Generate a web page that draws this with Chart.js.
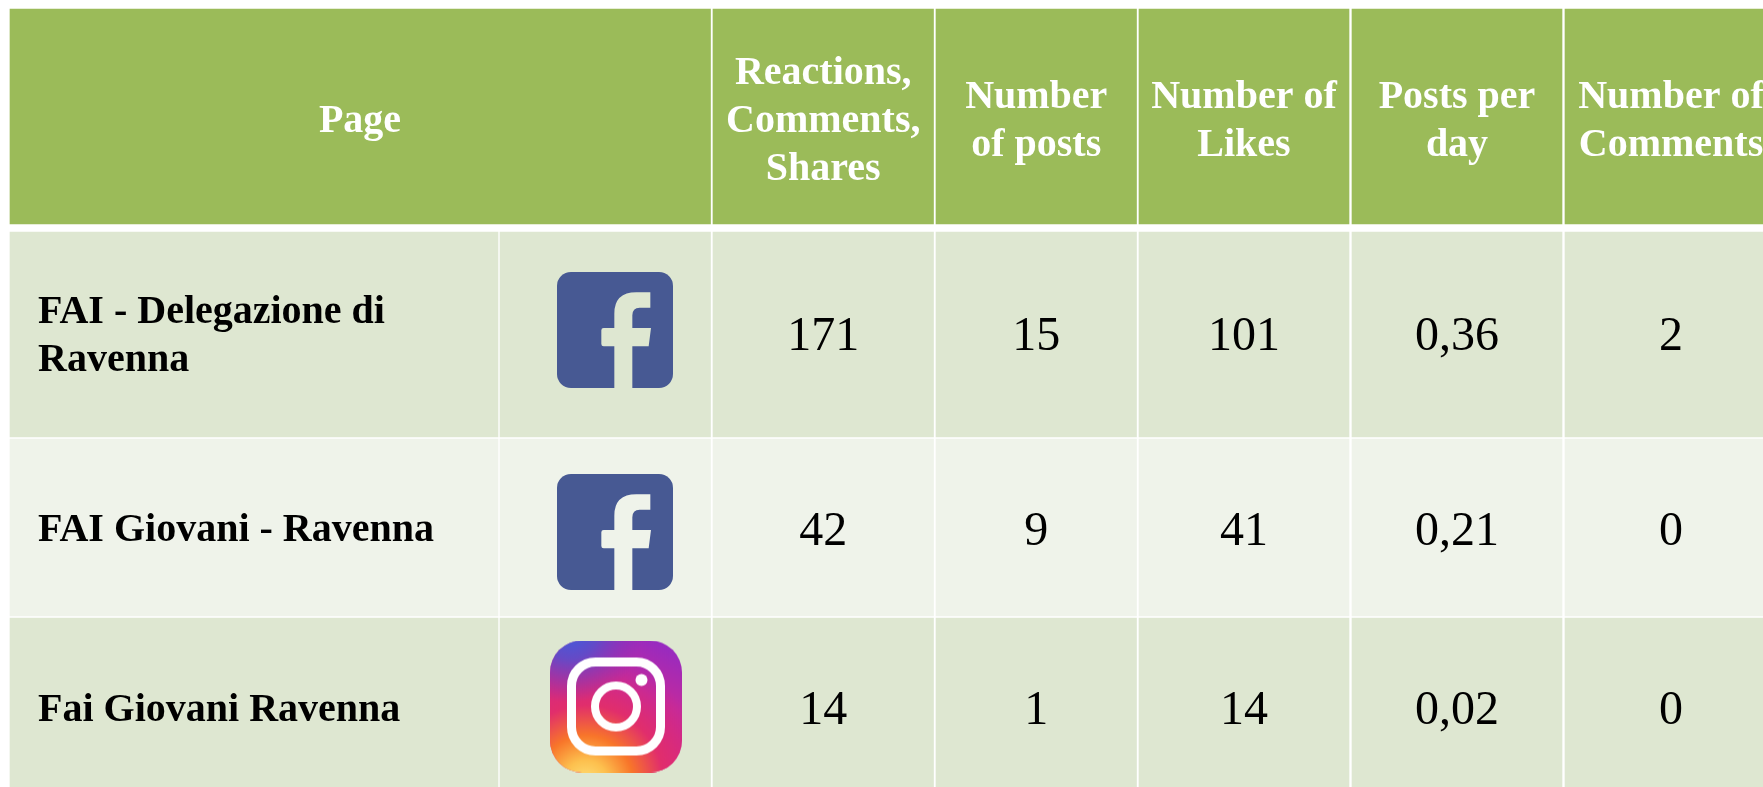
<!DOCTYPE html>
<html><head><meta charset="utf-8">
<style>html,body{margin:0;padding:0;background:#fff;overflow:hidden}canvas{display:block}</style>
<script src="https://cdn.jsdelivr.net/npm/chart.js@4/dist/chart.umd.min.js"></script>
</head><body><canvas id="c" width="1763" height="787"></canvas>
<script>
// ---- table content ----
const headers = [["Page"],["Reactions,","Comments,","Shares"],["Number","of posts"],["Number of","Likes"],["Posts per","day"],["Number of","Comments"]];
const pages = [["FAI - Delegazione di","Ravenna"],["FAI Giovani - Ravenna"],["Fai Giovani Ravenna"]];
const platforms = ["facebook","facebook","instagram"];
const reactions = [171,42,14];
const posts = [15,9,1];
const likes = [101,41,14];
const postsPerDay = [0.36,0.21,0.02];
const comments = [2,0,0];
// ---- layout ----
const colSpans = [[10,498],[500,710.5],[713,933.5],[936,1136.5],[1139,1349],[1352,1562],[1565,1777]];
const headerSpan = [9,224];
const rowSpans = [[232,437],[439,616],[618,796]];
const pageBaselines = [[322.5,370.5],[541],[721]];
const valueBaselines = [350,545,724];
const HEAD='#9BBB59', DARK='#DEE7D1', LIGHT='#EFF3EA';
const mid=a=>(a[0]+a[1])/2;

function fbIcon(){
  const s=116,c=document.createElement('canvas');c.width=c.height=s;const g=c.getContext('2d');
  g.fillStyle='#475993';g.beginPath();g.roundRect(0,0,s,s,14);g.fill();
  g.globalCompositeOperation='destination-out';
  const k=s/348;g.scale(k,k);g.beginPath();
  g.moveTo(280,61);g.lineTo(280,107);g.lineTo(248,107);g.quadraticCurveTo(226,107,226,130);g.lineTo(226,168);
  g.lineTo(282,168);g.lineTo(275,223);g.lineTo(226,223);g.lineTo(226,348);g.lineTo(172,348);g.lineTo(172,223);
  g.lineTo(140,223);g.quadraticCurveTo(133,223,133,216);g.lineTo(133,175);g.quadraticCurveTo(133,168,140,168);
  g.lineTo(172,168);g.lineTo(172,125);g.quadraticCurveTo(172,61,238,61);g.closePath();g.fill();
  return c;
}
function igIcon(){
  const s=132,c=document.createElement('canvas');c.width=c.height=s;const g=c.getContext('2d');
  g.save();g.beginPath();g.roundRect(0,0,s,s,32);g.clip();
  const b=g.createLinearGradient(s,0,s*.55,s);b.addColorStop(0,'#8E2BC8');b.addColorStop(.45,'#C42A9C');b.addColorStop(1,'#E4286A');
  g.fillStyle=b;g.fillRect(0,0,s,s);
  let r=g.createRadialGradient(s*.27,s*1.08,0,s*.27,s*1.08,s*.95);
  r.addColorStop(0,'#FFE27A');r.addColorStop(.18,'#FDC04E');r.addColorStop(.38,'#F8752A');r.addColorStop(.62,'#E12E6C');r.addColorStop(1,'rgba(215,40,130,0)');
  g.fillStyle=r;g.fillRect(0,0,s,s);
  r=g.createRadialGradient(s*.15,-s*.08,0,s*.15,-s*.08,s*.55);
  r.addColorStop(0,'rgba(60,95,225,1)');r.addColorStop(.4,'rgba(85,80,205,.85)');r.addColorStop(1,'rgba(120,50,190,0)');
  g.fillStyle=r;g.fillRect(0,0,s,s);
  g.restore();
  g.strokeStyle='#fff';g.fillStyle='#fff';g.lineWidth=9;
  g.beginPath();g.roundRect(21.5,21.5,89,89,24);g.stroke();
  g.lineWidth=8;g.beginPath();g.arc(66,66,21,0,7);g.stroke();
  g.beginPath();g.arc(91.5,39.5,6,0,7);g.fill();
  return c;
}
const icons={facebook:fbIcon(),instagram:igIcon()};
const iconCentreX=[615,615,616];
const iconCentreY=[330,532,706.5];

const rowFill=[DARK,LIGHT,DARK];
const headerCells=[[colSpans[0][0],colSpans[1][1]],...colSpans.slice(2)];
function bar(span,fill,cells){return {type:'bar',label:'row',data:cells.map(x=>({x,y:mid(span)})),backgroundColor:fill,barThickness:span[1]-span[0],borderWidth:0,grouped:false,order:2};}
const datasets=[bar(headerSpan,HEAD,headerCells)];
rowSpans.forEach((s,i)=>datasets.push(bar(s,rowFill[i],colSpans)));
datasets.push({type:'scatter',label:'icons',data:platforms.map((p,i)=>({x:iconCentreX[i],y:iconCentreY[i]})),
  pointStyle:platforms.map(p=>icons[p]),pointRadius:1,showLine:false,order:1,clip:false});

const SERIF='"Liberation Serif","Times New Roman",serif';
const tablePlugin={id:'tableText',afterDatasetsDraw(ch){
  const {ctx,scales:{x,y}}=ch;ctx.save();ctx.textBaseline='alphabetic';
  const put=(t,px,py)=>ctx.fillText(t,x.getPixelForValue(px),y.getPixelForValue(py));
  // header
  ctx.font='bold 40px '+SERIF;ctx.fillStyle='#fff';ctx.textAlign='center';
  headers.forEach((h,i)=>{const cx=i==0?360:mid(colSpans[i+1]);
    h.forEach((t,k)=>put(t,cx,116.5+(k-(h.length-1)/2)*48+15.5));});
  // first column
  ctx.fillStyle='#000';ctx.textAlign='left';
  pages.forEach((p,r)=>p.forEach((t,k)=>put(t,38,pageBaselines[r][k])));
  // value columns
  ctx.font='48px '+SERIF;ctx.textAlign='center';
  [reactions,posts,likes,postsPerDay.map(v=>v.toFixed(2).replace('.',',')),comments].forEach((col,c)=>{
    col.forEach((v,r)=>put(String(v),mid(colSpans[c+2]),valueBaselines[r]));
  });
  ctx.restore();
}};
new Chart(document.getElementById('c'),{
  data:{datasets},
  options:{indexAxis:'y',responsive:false,animation:false,events:[],layout:{padding:0,autoPadding:false},
    plugins:{legend:{display:false},tooltip:{enabled:false}},
    scales:{x:{type:'linear',min:0,max:1763,display:false,offset:false},y:{type:'linear',min:0,max:787,reverse:true,display:false,offset:false}}},
  plugins:[tablePlugin]
});
</script></body></html>
